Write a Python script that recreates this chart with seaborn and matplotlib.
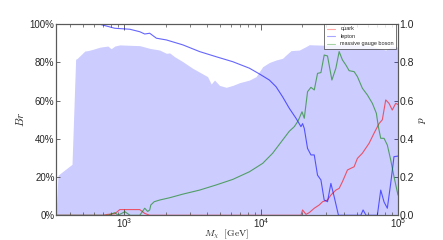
import matplotlib
matplotlib.use("Agg")
import numpy as np
import pandas as pd
from matplotlib import pyplot as plt
from matplotlib.ticker import PercentFormatter
import seaborn as sns

# p (shaded, right axis)
mass_p = [316, 327, 414, 440, 450, 514, 541, 589, 662, 757, 800, 851, 926, 1095,
          1295, 1531, 1811, 2027, 2143, 2330, 2678, 3151, 4055, 4313, 4559, 4959,
          5549, 6199, 6936, 8204, 9180, 10255, 11477, 12843, 14345, 15188, 16516,
          18980, 21250, 22460, 30000, 40000, 60000, 81340, 90000, 100000]
p_val = [0.0, 0.21, 0.267, 0.817, 0.82, 0.86, 0.862, 0.869, 0.88, 0.886, 0.872,
         0.886, 0.892, 0.89, 0.888, 0.874, 0.865, 0.848, 0.85, 0.83, 0.804, 0.77,
         0.726, 0.687, 0.708, 0.68, 0.67, 0.68, 0.694, 0.708, 0.726, 0.778, 0.80,
         0.813, 0.822, 0.839, 0.862, 0.865, 0.883, 0.893, 0.89, 0.893, 0.89,
         0.865, 0.885, 0.88]

# lepton
mass_lep = [316, 662, 851, 1095, 1295, 1408, 1531, 1714, 2027, 2678, 3545, 4691,
            6199, 8204, 9703, 11477, 12843, 14345, 16051, 17964, 19530, 20070,
            20650, 21820, 23100, 24430, 25810, 27330, 28880, 30530, 32320, 34160,
            36720, 53460, 55560, 58440, 70650, 74790, 79070, 83560, 88450, 93500,
            100000]
br_lep = [1.0, 1.0, 0.979, 0.974, 0.961, 0.949, 0.953, 0.927, 0.918, 0.892, 0.857,
          0.83, 0.804, 0.77, 0.74, 0.708, 0.673, 0.62, 0.56, 0.508, 0.464, 0.48,
          0.455, 0.35, 0.316, 0.316, 0.21, 0.185, 0.08, 0.071, 0.167, 0.097, 0.0,
          0.0, 0.028, 0.0, 0.0, 0.132, 0.07, 0.037, 0.167, 0.307, 0.31]

# massive gauge boson
mass_gb = [316, 760, 851, 900, 1007, 1100, 1295, 1408, 1480, 1531, 1560, 1650,
           1811, 2143, 2678, 3545, 4691, 6199, 8204, 10255, 12130, 14345, 16051,
           17458, 18450, 18980, 19870, 20650, 21820, 23100, 24430, 25810, 27330,
           28880, 30530, 32870, 35150, 37150, 39260, 41570, 43940, 47780, 50500,
           54910, 59740, 64970, 69480, 71840, 74790, 79070, 83560, 88450, 93500,
           100000]
br_gb = [0.0, 0.0, 0.014, 0.0, 0.019, 0.0, 0.0, 0.037, 0.02, 0.028, 0.054, 0.071,
         0.08, 0.092, 0.111, 0.132, 0.159, 0.188, 0.228, 0.272, 0.325, 0.394, 0.44,
         0.464, 0.49, 0.508, 0.542, 0.508, 0.647, 0.67, 0.656, 0.743, 0.747, 0.839,
         0.834, 0.708, 0.77, 0.857, 0.813, 0.787, 0.757, 0.752, 0.726, 0.665, 0.63,
         0.586, 0.534, 0.464, 0.403, 0.403, 0.368, 0.29, 0.202, 0.106]

# quark
mass_q = [316, 700, 757, 851, 926, 1295, 1408, 1531, 19530, 20070, 21250, 22460,
          24430, 26560, 28080, 30530, 32320, 35150, 37150, 39260, 42700, 45200,
          47780, 50500, 54910, 61470, 66850, 72690, 76830, 81340, 85970, 90840,
          96210, 100000]
br_q = [0.0, 0.0, 0.005, 0.008, 0.03, 0.03, 0.01, 0.0, 0.0, 0.028, 0.005, 0.014,
        0.037, 0.054, 0.071, 0.08, 0.106, 0.132, 0.141, 0.176, 0.237, 0.246, 0.254,
        0.298, 0.325, 0.377, 0.43, 0.48, 0.5, 0.604, 0.586, 0.551, 0.586, 0.58]

sns.set_style("white", {"xtick.direction": "in", "ytick.direction": "in",
                        "axes.edgecolor": "0.3"})
plt.rcParams["font.family"] = ["Liberation Sans", "DejaVu Sans"]
plt.rcParams["mathtext.fontset"] = "cm"

fig = plt.figure(figsize=(4.43, 2.40), dpi=100)
ax = fig.add_axes([0.1264, 0.1029, 0.772, 0.796])
ax2 = ax.twinx()

# shaded p on the right axis, lines on top
ax2.fill_between(mass_p, p_val, color="b", alpha=0.2, lw=0)
ax.set_zorder(ax2.get_zorder() + 1)
ax.patch.set_visible(False)

for m, br, c, lab in [(mass_q, br_q, "r", "quark"),
                      (mass_lep, br_lep, "b", "lepton"),
                      (mass_gb, br_gb, "g", "massive gauge boson")]:
    sns.lineplot(x=m, y=br, ax=ax, color=c, alpha=0.6, lw=0.8, label=lab,
                 estimator=None, sort=False)

ax.set_xscale("log")
ax.set_xlim(316.2, 1e5)
ax.set_ylim(0, 1)
ax2.set_ylim(0, 1)
ax.yaxis.set_major_formatter(PercentFormatter(1.0, decimals=0))
ax.set_yticks(np.arange(0, 1.01, 0.2))
ax2.set_yticks(np.arange(0, 1.01, 0.2))

ax.tick_params(axis="x", which="both", top=True, bottom=True, labelsize=7, pad=1)
ax.tick_params(axis="x", which="major", length=4, width=0.6, color="0.3")
ax.tick_params(axis="x", which="minor", length=2, width=0.5, color="0.3")
ax.tick_params(axis="y", length=3, width=0.6, labelsize=7, pad=1, color="0.3")
ax2.tick_params(axis="y", length=3, width=0.6, labelsize=7.5, pad=1, color="0.3")

ax.set_xlabel(r"$M_\chi\ \ [\mathrm{GeV}]$", fontsize=7)
ax.xaxis.set_label_coords(0.5, -0.066)
ax.set_ylabel(r"$Br$", fontsize=8, labelpad=3)
ax2.set_ylabel(r"$p$", fontsize=8, labelpad=2)

for a in (ax, ax2):
    for s in a.spines.values():
        s.set_linewidth(0.8)
        s.set_color("0.35")

leg = ax.legend(loc="upper right", bbox_to_anchor=(0.995, 1.0), fontsize=4,
                frameon=True, fancybox=False, edgecolor="0.2", borderaxespad=0,
                handlelength=1.5, handletextpad=1.0, labelspacing=0.45)
leg.get_frame().set_linewidth(0.6)
for line in leg.get_lines():
    line.set_alpha(0.35)

fig.savefig("out.png", dpi=100)
